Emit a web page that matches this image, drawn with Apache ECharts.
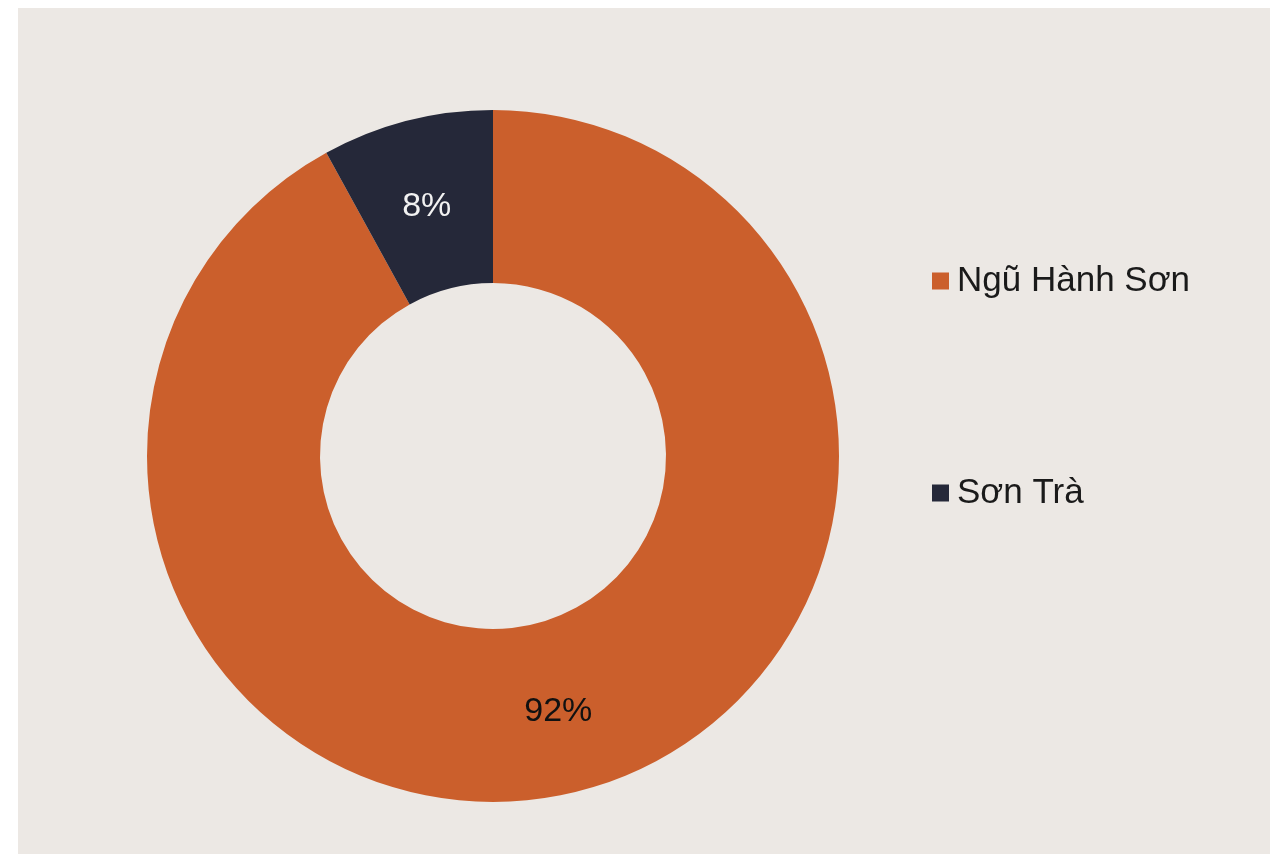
<!DOCTYPE html>
<html>
<head>
<meta charset="utf-8">
<script src="https://cdn.jsdelivr.net/npm/echarts@6/dist/echarts.min.js"></script>
<style>
  html, body { margin: 0; padding: 0; background: #ffffff; }
  #chart { position: absolute; left: 18px; top: 8px; width: 1252px; height: 846px; }
</style>
</head>
<body>
<div id="chart"></div>
<script>
// districts and their share
var districts = ['Ngũ Hành Sơn', 'Sơn Trà'];
var shares = [92, 8];
var colors = ['#CB5F2C', '#252839'];
var labelColors = ['#111111', '#F2F2F2'];
var labelShift = [[0, 1], [-1, 5]];

var pieData = districts.map(function (name, i) {
  return {
    name: name,
    value: shares[i],
    itemStyle: { color: colors[i] },
    label: { color: labelColors[i], offset: labelShift[i] }
  };
});

var myChart = echarts.init(document.getElementById('chart'));
myChart.setOption({
  backgroundColor: '#ECE8E4',
  animation: false,
  legend: {
    orient: 'vertical',
    left: 909,
    top: 250,
    icon: 'rect',
    itemWidth: 17,
    itemHeight: 17,
    itemGap: 176,
    data: districts,
    textStyle: {
      fontFamily: 'Liberation Sans, Arial, sans-serif',
      fontSize: 35,
      lineHeight: 36,
      color: '#1a1a1a',
      padding: [0, 0, 0, 3]
    }
  },
  series: [
    {
      type: 'pie',
      center: [475, 448],
      radius: [173, 346],
      startAngle: 90,
      clockwise: true,
      avoidLabelOverlap: false,
      label: {
        show: true,
        position: 'inside',
        formatter: '{c}%',
        fontFamily: 'Liberation Sans, Arial, sans-serif',
        fontSize: 34
      },
      labelLine: { show: false },
      emphasis: { disabled: true },
      data: pieData
    }
  ]
});
</script>
</body>
</html>
